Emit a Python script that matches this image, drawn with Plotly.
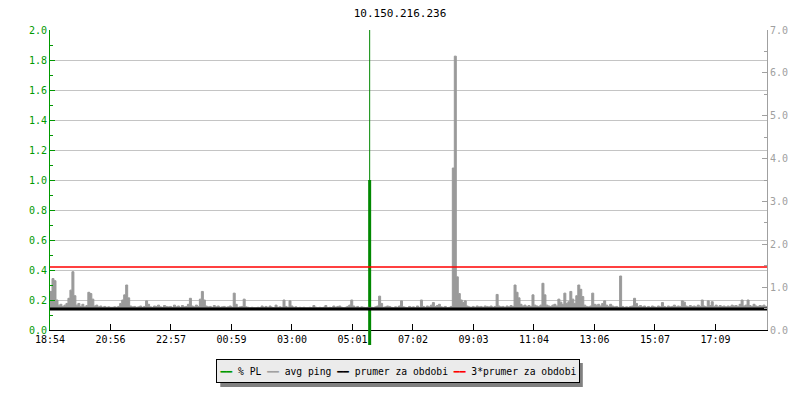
import plotly.graph_objects as go

# ---------------- data ----------------
title_text = "10.150.216.236"
start_minute = 0
step_minutes = 4

avg_ping = [
    0.90, 1.20, 1.15, 0.70, 0.58, 0.60, 0.55, 0.58, 0.62, 0.74, 0.93, 1.36, 0.80, 0.58, 0.62, 0.55, 0.60, 0.54, 0.57, 0.88,
    0.85, 0.72, 0.56, 0.58, 0.54, 0.56, 0.53, 0.55, 0.53, 0.54, 0.53, 0.53, 0.54, 0.53, 0.55, 0.62, 0.70, 0.82, 1.05, 0.75,
    0.56, 0.54, 0.55, 0.53, 0.54, 0.56, 0.53, 0.55, 0.68, 0.60, 0.54, 0.53, 0.56, 0.55, 0.58, 0.54, 0.53, 0.57, 0.55, 0.54,
    0.55, 0.53, 0.58, 0.54, 0.56, 0.53, 0.57, 0.54, 0.55, 0.60, 0.74, 0.56, 0.54, 0.58, 0.55, 0.72, 0.90, 0.70, 0.56, 0.54,
    0.55, 0.53, 0.57, 0.54, 0.56, 0.53, 0.54, 0.55, 0.53, 0.54, 0.56, 0.53, 0.86, 0.60, 0.53, 0.54, 0.55, 0.72, 0.54, 0.53,
    0.52, 0.53, 0.52, 0.52, 0.53, 0.52, 0.56, 0.53, 0.55, 0.52, 0.56, 0.53, 0.52, 0.58, 0.53, 0.54, 0.53, 0.70, 0.55, 0.53,
    0.68, 0.56, 0.53, 0.54, 0.52, 0.53, 0.52, 0.53, 0.52, 0.52, 0.53, 0.52, 0.57, 0.53, 0.52, 0.53, 0.52, 0.53, 0.57, 0.52,
    0.53, 0.52, 0.56, 0.53, 0.55, 0.56, 0.53, 0.52, 0.53, 0.55, 0.58, 0.70, 0.56, 0.53, 0.55, 0.52, 0.54, 0.53, 0.52, 0.53,
    0.52, 0.53, 0.52, 0.54, 0.56, 0.79, 0.62, 0.53, 0.54, 0.56, 0.55, 0.53, 0.52, 0.54, 0.53, 0.56, 0.68, 0.54, 0.53, 0.52,
    0.55, 0.53, 0.54, 0.52, 0.56, 0.53, 0.70, 0.55, 0.53, 0.56, 0.54, 0.58, 0.64, 0.55, 0.57, 0.60, 0.54, 0.53, 0.55, 0.52,
    0.53, 0.55, 3.78, 6.39, 1.24, 0.85, 0.70, 0.64, 0.68, 0.56, 0.54, 0.53, 0.55, 0.53, 0.56, 0.54, 0.55, 0.53, 0.56, 0.55,
    0.54, 0.56, 0.53, 0.55, 0.83, 0.56, 0.54, 0.55, 0.53, 0.56, 0.54, 0.57, 0.55, 1.05, 0.88, 0.75, 0.60, 0.56, 0.58, 0.55,
    0.57, 0.55, 0.82, 0.58, 0.56, 0.55, 0.58, 1.09, 0.82, 0.58, 0.56, 0.55, 0.58, 0.60, 0.56, 0.72, 0.65, 0.60, 0.86, 0.62,
    0.66, 0.90, 0.72, 0.62, 0.80, 1.05, 0.95, 0.78, 0.58, 0.55, 0.54, 0.56, 0.86, 0.60, 0.58, 0.60, 0.56, 0.62, 0.68, 0.58,
    0.55, 0.60, 0.56, 0.54, 0.55, 0.53, 1.26, 0.55, 0.53, 0.54, 0.53, 0.55, 0.56, 0.74, 0.62, 0.55, 0.57, 0.54, 0.56, 0.53,
    0.55, 0.53, 0.56, 0.54, 0.53, 0.56, 0.54, 0.64, 0.55, 0.53, 0.56, 0.54, 0.55, 0.58, 0.54, 0.56, 0.55, 0.68, 0.65, 0.56,
    0.54, 0.57, 0.55, 0.56, 0.54, 0.58, 0.55, 0.70, 0.56, 0.54, 0.68, 0.57, 0.66, 0.55, 0.58, 0.54, 0.57, 0.55, 0.56, 0.54,
    0.56, 0.55, 0.58, 0.56, 0.57, 0.55, 0.60, 0.70, 0.56, 0.58, 0.70, 0.57, 0.55, 0.60, 0.56, 0.55, 0.57, 0.56, 0.58, 0.55,
    0.56,
]
time_minutes = [start_minute + step_minutes * i for i in range(len(avg_ping))]

prumer = 0.49          # average for the period (right axis)
prumer3 = 1.47         # 3 * average (right axis)

pl_time = [642]        # minute of the packet-loss event
pl_value = [1.0]
pl_peak = [2.0]

tick_minutes = [0, 121.5, 243, 364.5, 486, 607.5, 729, 850.5, 972, 1093.5, 1215, 1336.5]
tick_labels = ["18:54", "20:56", "22:57", "00:59", "03:00", "05:01",
               "07:02", "09:03", "11:04", "13:06", "15:07", "17:09"]

series_names = ["% PL", "avg ping", "prumer za obdobi", "3*prumer za obdobi"]
series_colors = ["#009900", "#a0a0a0", "#000000", "#ff0000"]

# ---------------- figure ----------------
FONT = "DejaVu Sans Mono"
GREEN = "#009900"
GRAY = "#a0a0a0"

fig = go.Figure()

# invisible base for gray area
fig.add_trace(go.Scatter(
    x=time_minutes, y=[prumer] * len(time_minutes), yaxis="y2",
    mode="lines", line=dict(width=0, color=GRAY), line_shape="hv",
    showlegend=False, hoverinfo="skip"))
fig.add_trace(go.Scatter(
    x=time_minutes, y=avg_ping, yaxis="y2", name=series_names[1],
    mode="lines", line=dict(width=1, color="#9a9a9a"), line_shape="hv",
    fill="tonexty", fillcolor="#9a9a9a", showlegend=False, hoverinfo="skip"))
fig.add_trace(go.Scatter(
    x=[time_minutes[0], time_minutes[-1]], y=[prumer, prumer], yaxis="y2",
    name=series_names[2], mode="lines", line=dict(width=3, color="#000000"),
    showlegend=False, hoverinfo="skip"))
fig.add_trace(go.Scatter(
    x=[time_minutes[0], time_minutes[-1]], y=[prumer3, prumer3], yaxis="y2",
    name=series_names[3], mode="lines", line=dict(width=1.5, color="#ff0000"),
    showlegend=False, hoverinfo="skip"))
# packet loss
fig.add_trace(go.Scatter(
    x=[pl_time[0], pl_time[0]], y=[0, pl_peak[0]], yaxis="y",
    mode="lines", line=dict(width=1, color="#008800"),
    showlegend=False, hoverinfo="skip"))
fig.add_trace(go.Scatter(
    x=[pl_time[0], pl_time[0]], y=[0, pl_value[0]], yaxis="y",
    name=series_names[0], mode="lines", line=dict(width=3, color="#008800"),
    showlegend=False, hoverinfo="skip"))

shapes = [
    dict(type="line", xref="x", yref="paper",
         x0=pl_time[0], x1=pl_time[0], y0=-0.05, y1=0,
         line=dict(color="#008800", width=3)),
    # legend drop shadow
    dict(type="rect", xref="paper", yref="paper",
         x0=0.2375, x1=0.7431, y0=-0.19, y1=-0.11,
         fillcolor="#808080", line=dict(width=0), layer="above"),
]

# custom legend (rrdtool style)
parts = []
for name, col in zip(series_names, series_colors):
    parts.append(f'<span style="color:{col}">━━</span> {name}')
legend_text = " ".join(parts)

annotations = [
    dict(text=legend_text, xref="paper", yref="paper", x=0.4847, y=-0.1367,
         xanchor="center", yanchor="middle", showarrow=False,
         width=358, height=18, align="center",
         font=dict(family=FONT, size=9.7, color="#000000"),
         bgcolor="#ebebeb", bordercolor="#000000", borderwidth=1, borderpad=2),
]

fig.update_layout(
    width=800, height=400,
    margin=dict(l=50, r=30, t=30, b=70),
    paper_bgcolor="white", plot_bgcolor="white",
    font=dict(family=FONT, size=10, color="#000000"),
    title=dict(text=title_text, x=0.5, xanchor="center", y=0.9675, yanchor="middle",
               font=dict(family=FONT, size=11, color="#000000")),
    hovermode=False,
    showlegend=False,
    xaxis=dict(range=[0, 1440], tickvals=tick_minutes, ticktext=tick_labels,
               showgrid=False, zeroline=False, showline=True, linecolor="#000000",
               linewidth=1, ticks="inside", ticklen=6, tickcolor="#000000",
               tickfont=dict(family=FONT, size=10, color="#000000")),
    yaxis=dict(range=[0, 2.0], dtick=0.2, tick0=0, tickformat=".1f",
               showgrid=True, gridcolor="#c4c4c4", gridwidth=1, zeroline=False,
               showline=True, linecolor=GREEN, linewidth=1,
               ticks="inside", ticklen=5, tickcolor=GREEN,
               minor=dict(dtick=0.1, ticks="inside", ticklen=3, tickcolor=GREEN, showgrid=False),
               tickfont=dict(family=FONT, size=10, color=GREEN)),
    yaxis2=dict(range=[0, 7.0], dtick=1, tick0=0, tickformat=".1f", overlaying="y",
                side="right", showgrid=False, zeroline=False,
                showline=True, linecolor=GRAY, linewidth=1,
                ticks="inside", ticklen=5, tickcolor=GRAY,
                minor=dict(dtick=0.5, ticks="inside", ticklen=3, tickcolor=GRAY, showgrid=False),
                tickfont=dict(family=FONT, size=10, color=GRAY)),
    shapes=shapes,
    annotations=annotations,
)

fig.write_html("out.html", config={"displayModeBar": False},
               post_script="document.body.style.margin='0px';")
